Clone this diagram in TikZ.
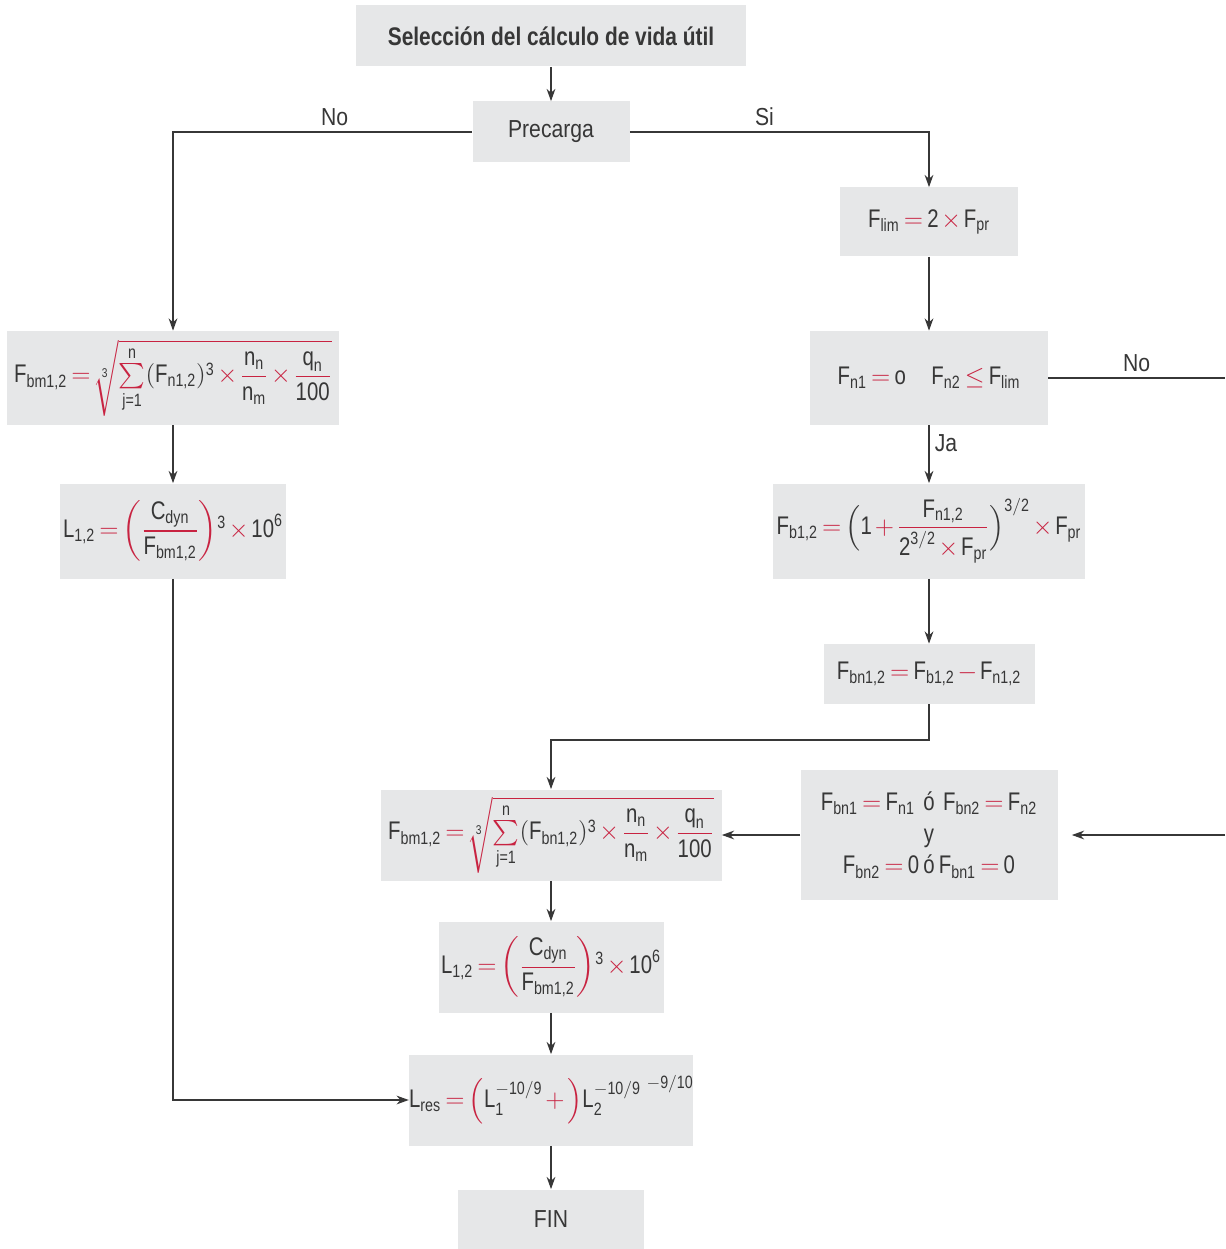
\documentclass[tikz,border=0pt]{standalone}
\usepackage{amsmath}
\usepackage{fontspec}
\setmainfont[FakeStretch=0.86]{Liberation Sans}
\newfontfamily\titlefont[FakeStretch=0.82]{Liberation Sans}
\newfontfamily\fmfont[FakeStretch=0.8]{Liberation Sans}
\usetikzlibrary{arrows.meta}

\definecolor{boxgray}{RGB}{230,231,232}
\definecolor{txt}{RGB}{55,55,55}
\definecolor{cred}{RGB}{200,35,65}

\thickmuskip=3mu plus 2mu
\medmuskip=2mu plus 1mu
\newcommand{\sv}[2]{\text{#1}_{\text{#2}}}
\newcommand{\tx}[1]{\text{#1}}
\newcommand{\req}{\mathrel{\textcolor{cred}{=}}}
\newcommand{\xx}{\mathbin{\textcolor{cred}{\times}}}
\newcommand{\pls}{\mathbin{\textcolor{cred}{+}}}
\newcommand{\mns}{\mathbin{\textcolor{cred}{-}}}
\newcommand{\rleq}{\mathrel{\textcolor{cred}{\leq}}}
\newcommand{\rfrac}[2]{{\color{cred}\dfrac{\color{txt}#1}{\color{txt}#2}}}
\newcommand{\rsum}{\mathop{\textstyle{\color{cred}\sum}}\limits_{\tx{j=1}}^{\tx{n}}}
\newcommand{\rroot}[1]{{\color{cred}\sqrt[\color{txt}\tx{3}]{\color{txt}#1}}}

\begin{document}
\begin{tikzpicture}
[x=0.2mm,y=-0.2mm,
 every node/.style={fill=boxgray,text=txt,inner sep=0pt,font=\fontsize{14}{16}\selectfont},
 fm/.style={font=\fmfont\fontsize{14.5}{18}\selectfont},
 lbl/.style={fill=none,inner sep=3pt,font=\fontsize{14}{16}\selectfont},
 line/.style={draw=txt,line width=0.7pt},
 arr/.style={line,-{Stealth[length=7pt,width=5pt]}}]
\useasboundingbox (0,0) rectangle (1225,1249);
% top and left branch
\node[minimum width=78mm,minimum height=12.2mm,font=\titlefont\bfseries\fontsize{14.5}{17}\selectfont] (sel) at (551,36) {Selección del cálculo de vida útil};
\node[minimum width=31.4mm,minimum height=12.2mm] (pre) at (551,132) {Precarga};
\node[fm,minimum width=66.2mm,minimum height=18.8mm] (bmL) at (173,378)
  {$\sv{F}{bm1,2}\req\rroot{\rsum(\sv{F}{n1,2})^{\tx{3}}\xx\rfrac{\sv{n}{n}}{\sv{n}{m}}\xx\rfrac{\sv{q}{n}}{\tx{100}}}$};
\node[fm,minimum width=45mm,minimum height=19mm] (lL) at (173,531)
  {$\sv{L}{1,2}\req{\color{cred}\biggl(}\rfrac{\sv{C}{dyn}}{\sv{F}{bm1,2}}{\color{cred}\biggr)}^{\tx{3}}\xx\tx{10}^{\tx{6}}$};
% right branch
\node[fm,minimum width=35.6mm,minimum height=13.8mm] (lim) at (929,222) {$\sv{F}{lim}\req\tx{2}\xx\sv{F}{pr}$};
\node[fm,minimum width=47.6mm,minimum height=18.8mm] (fn) at (929,378) {$\sv{F}{n1}\req\tx{o}\quad\sv{F}{n2}\rleq\sv{F}{lim}$};
\node[fm,minimum width=62.4mm,minimum height=19mm] (fb) at (929,531)
  {$\sv{F}{b1,2}\req\Bigl(\tx{1}\pls\rfrac{\sv{F}{n1,2}}{\tx{2}^{\tx{3}/\tx{2}}\xx\sv{F}{pr}}\Bigr)^{\tx{3}/\tx{2}}\xx\sv{F}{pr}$};
\node[fm,minimum width=42.2mm,minimum height=12mm] (fbn) at (929,674) {$\sv{F}{bn1,2}\req\sv{F}{b1,2}\mns\sv{F}{n1,2}$};
\node[fm,minimum width=51.4mm,minimum height=26mm,align=center] (fbx) at (929,835)
  {$\sv{F}{bn1}\req\sv{F}{n1}\;\;\tx{ó}\;\;\sv{F}{bn2}\req\sv{F}{n2}$\\ y\\ $\sv{F}{bn2}\req\tx{0}\;\tx{ó}\;\sv{F}{bn1}\req\tx{0}$};
% middle column
\node[fm,minimum width=68.2mm,minimum height=18.2mm] (bmM) at (551,835)
  {$\sv{F}{bm1,2}\req\rroot{\rsum(\sv{F}{bn1,2})^{\tx{3}}\xx\rfrac{\sv{n}{n}}{\sv{n}{m}}\xx\rfrac{\sv{q}{n}}{\tx{100}}}$};
\node[fm,minimum width=45mm,minimum height=18.2mm] (lM) at (551,967)
  {$\sv{L}{1,2}\req{\color{cred}\biggl(}\rfrac{\sv{C}{dyn}}{\sv{F}{bm1,2}}{\color{cred}\biggr)}^{\tx{3}}\xx\tx{10}^{\tx{6}}$};
\node[fm,minimum width=54.4mm,minimum height=18.2mm] (res) at (551,1100)
  {$\sv{L}{res}\req{\color{cred}\Bigl(}\tx{L}_{\tx{1}}^{-\tx{10}/\tx{9}}\pls{\color{cred}\Bigr)}\tx{L}_{\tx{2}}^{-\tx{10}/\tx{9}}\mspace{4mu}\raisebox{1.4ex}{$\scriptstyle-\tx{9}/\tx{10}$}$};
\node[minimum width=37.2mm,minimum height=11.8mm] (fin) at (551,1219) {FIN};
\coordinate (rNo) at (1225,378);
\coordinate (rIn) at (1225,835);
\coordinate (jn) at (551,740);
\foreach \from/\to in {sel/pre,lim/fn,fb/fbn,bmL/lL,bmM/lM,lM/res,res/fin,fbx/bmM}
\draw[arr] (\from) -- (\to);
\draw[arr] (pre) -| node[lbl,above,pos=0.23]{No} (bmL);
\draw[arr] (pre) -| node[lbl,above,pos=0.225]{Si} (lim);
\draw[arr] (fn) -- node[lbl,right,pos=0.3]{Ja} (fb);
\draw[line] (fn) -- node[lbl,above]{No} (rNo);
\draw[arr,shorten >=2.8mm] (rIn) -- (fbx);
\draw[arr] (fbn.south) |- (jn) -- (bmM);
\draw[arr] (lL) |- (res);
\end{tikzpicture}
\end{document}
